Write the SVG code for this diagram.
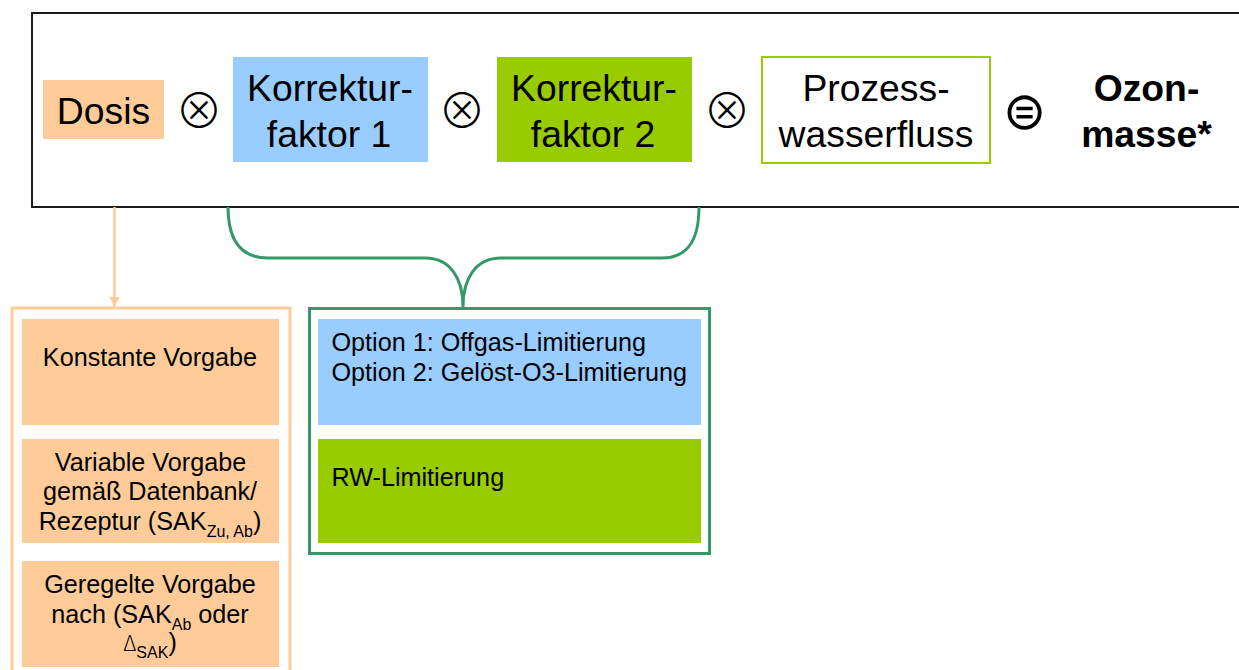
<svg xmlns="http://www.w3.org/2000/svg" width="1239" height="670" viewBox="0 0 1239 670">
<style>
.big{font-family:"Liberation Sans",Arial,sans-serif;font-size:37.3px;fill:#000;text-anchor:middle}
.bold{font-weight:bold}
.sm{font-family:"Liberation Sans",Arial,sans-serif;font-size:25.2px;fill:#000}
.mid{text-anchor:middle}
.op{font-family:"Noto Sans CJK JP","DejaVu Sans",sans-serif;font-weight:300;font-size:48px;fill:#000;text-anchor:middle}
.eq{font-family:"DejaVu Sans",sans-serif;font-size:52px;fill:#000;text-anchor:middle}
.sub{font-size:16px}
.or{fill:#FFCC99}
.bl{fill:#99CCFF}
.gr{fill:#99CC00}
</style>
<defs>
<marker id="arrO" viewBox="0 0 10 10" refX="9" refY="5" markerWidth="4" markerHeight="4" orient="auto" markerUnits="strokeWidth">
<path d="M0,0 L10,5 L0,10 z" fill="#FFCC99"/>
</marker>
</defs>
<rect width="1239" height="670" fill="#fff"/>
<g id="formula">
<rect x="32" y="13" width="1212" height="194" fill="#fff" stroke="#1a1a1a" stroke-width="2"/>
</g>
<g id="dosis">
<rect class="or" x="43" y="80" width="121" height="59"/>
<text class="big" x="103.5" y="124">Dosis</text>
</g>
<g id="op1"><text class="op" x="199" y="128">⊗</text></g>
<g id="kf1">
<rect class="bl" x="233" y="57" width="195" height="105"/>
<text class="big" x="330" y="101">Korrektur-</text>
<text class="big" x="329" y="146.7">faktor 1</text>
</g>
<g id="op2"><text class="op" x="462" y="128">⊗</text></g>
<g id="kf2">
<rect class="gr" x="497" y="57" width="195" height="105"/>
<text class="big" x="594" y="101">Korrektur-</text>
<text class="big" x="593" y="146.7">faktor 2</text>
</g>
<g id="op3"><text class="op" x="727" y="128">⊗</text></g>
<g id="pwf">
<rect x="762" y="57" width="228" height="106" fill="#fff" stroke="#99CC00" stroke-width="2"/>
<text class="big" x="876" y="101">Prozess-</text>
<text class="big" x="876" y="146.7">wasserfluss</text>
</g>
<g id="op4"><text class="eq" x="1024.5" y="128.5">⊜</text></g>
<g id="ozon">
<text class="big bold" x="1146.5" y="101">Ozon-</text>
<text class="big bold" x="1146.5" y="146.7">masse*</text>
</g>
<g id="connectors" fill="none">
<line x1="114.5" y1="207" x2="114.5" y2="306" stroke="#FFCC99" stroke-width="2.5" marker-end="url(#arrO)"/>
<path d="M228,207 C228,240 240,258 268,258 L425,258 C450,258 463,278 463,307 C463,278 476,258 501,258 L662,258 C688,258 699,240 699,207" stroke="#339966" stroke-width="3"/>
</g>
<g id="dosis-options">
<rect x="12" y="308" width="278" height="370" fill="none" stroke="#FFCC99" stroke-width="3"/>
<g id="konstant">
<rect class="or" x="22" y="319" width="257" height="106"/>
<text class="sm mid" x="150" y="365.7">Konstante Vorgabe</text>
</g>
<g id="variabel">
<rect class="or" x="22" y="439" width="257" height="104"/>
<text class="sm mid" x="150.5" y="470.7">Variable Vorgabe</text>
<text class="sm mid" x="150" y="500">gemäß Datenbank/</text>
<text class="sm mid" x="150" y="530">Rezeptur (SAK<tspan class="sub" dy="7">Zu, Ab</tspan><tspan dy="-7">)</tspan></text>
</g>
<g id="geregelt">
<rect class="or" x="22" y="561" width="257" height="106"/>
<text class="sm mid" x="150" y="593">Geregelte Vorgabe</text>
<text class="sm mid" x="150" y="622.5">nach (SAK<tspan class="sub" dy="7">Ab</tspan><tspan dy="-7"> oder</tspan></text>
<text class="sm mid" x="150" y="651"><tspan style="font-family:'Noto Sans CJK JP','DejaVu Sans',sans-serif;font-weight:300;font-size:21px">Δ</tspan><tspan class="sub" dy="7">SAK</tspan><tspan dy="-7">)</tspan></text>
</g>
</g>
<g id="korrektur-options">
<rect x="309.5" y="308.5" width="400" height="245" fill="none" stroke="#339966" stroke-width="3"/>
<g id="opt-o3">
<rect class="bl" x="318" y="319" width="383" height="106"/>
<text class="sm" x="331.5" y="350.7">Option 1: Offgas-Limitierung</text>
<text class="sm" x="331.5" y="381">Option 2: Gelöst-O3-Limitierung</text>
</g>
<g id="opt-rw">
<rect class="gr" x="318" y="439" width="383" height="104"/>
<text class="sm" x="331.5" y="485.7">RW-Limitierung</text>
</g>
</g>
</svg>
